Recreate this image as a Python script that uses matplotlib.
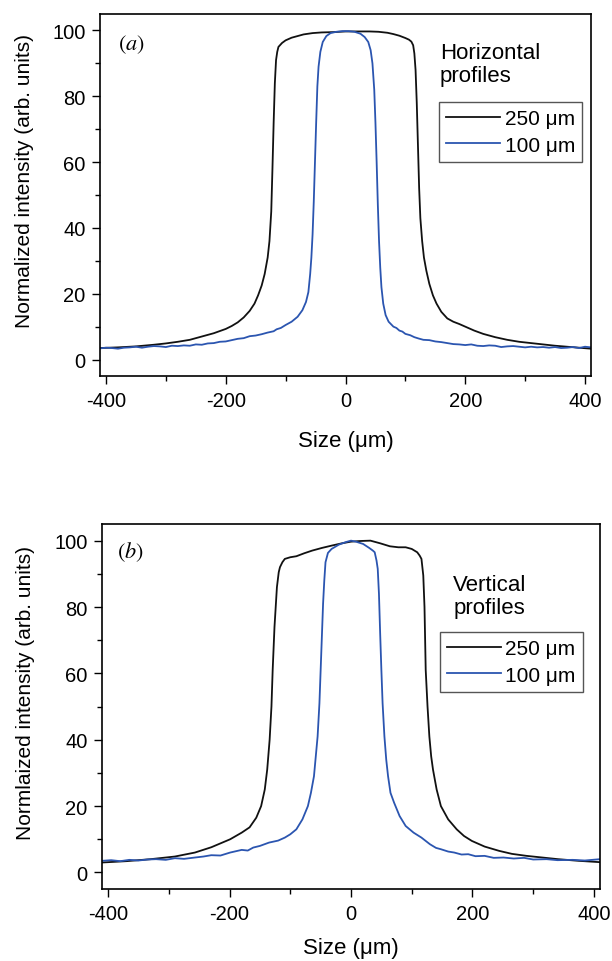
from matplotlib import pyplot as plt
from matplotlib.ticker import MultipleLocator

plt.rcParams['font.family'] = ['Liberation Sans', 'DejaVu Sans']
plt.rcParams['axes.unicode_minus'] = False
plt.rcParams['mathtext.fontset'] = 'stix'

# (a) horizontal profiles, 250 um slit
h250_x = [-410, -380, -350, -320, -300, -280, -260, -240, -220, -200, -190, -180, -170,
          -160, -152, -146, -140, -135, -130, -127, -124, -122, -120, -118, -116, -114,
          -112, -106, -100, -90, -80, -70, -55, -40, -20, 0, 20, 40, 55, 70, 80, 90, 100,
          106, 110, 113, 115, 117, 119, 121, 123, 125, 128, 131, 135, 140, 146, 152, 160,
          170, 180, 190, 200, 215, 230, 250, 270, 290, 310, 330, 350, 370, 390, 410]
h250_y = [3.5, 3.7, 4.0, 4.5, 4.9, 5.4, 6.0, 7.0, 8.0, 9.3, 10.2, 11.3, 12.8,
          14.8, 17.0, 19.5, 22.5, 26.0, 31.0, 36.0, 45.0, 58.0, 72.0, 84.0, 91.0, 93.5,
          95.0, 96.2, 97.0, 97.8, 98.3, 98.8, 99.2, 99.4, 99.5, 99.7, 99.7, 99.7, 99.6, 99.3,
          98.9, 98.4, 97.7, 97.2, 96.6, 95.5, 93.0, 88.0, 78.0, 65.0, 52.0, 43.0, 36.0,
          31.0, 27.0, 23.0, 19.5, 17.0, 14.5, 12.5, 11.5, 10.8, 10.0, 8.8, 7.8, 6.8, 6.0,
          5.4, 5.0, 4.6, 4.2, 3.9, 3.6, 3.3]

# (a) horizontal profiles, 100 um slit
h100_x = [-410, -400, -390, -380, -370, -360, -350, -340, -330, -320, -310, -300, -290,
          -280, -270, -260, -250, -240, -230, -220, -210, -200, -190, -180, -170, -160,
          -150, -140, -130, -120, -115, -108, -100, -90, -80, -72, -66, -62, -59, -57, -55,
          -53, -51, -49, -47, -45, -42, -38, -32, -25, -15, -5, 5, 15, 25, 32, 38, 42, 45,
          48, 50, 52, 54, 56, 58, 60, 63, 67, 72, 80, 85, 90, 95, 100, 108, 115, 122, 130,
          140, 150, 160, 170, 180, 190, 200, 210, 220, 230, 240, 250, 260, 270, 280, 290,
          300, 310, 320, 330, 340, 350, 360, 370, 380, 390, 400, 410]
h100_y = [3.4, 3.6, 3.5, 3.3, 3.6, 3.7, 3.9, 3.6, 3.9, 4.1, 4.0, 3.8, 4.2,
          4.1, 4.3, 4.2, 4.6, 4.5, 4.9, 5.0, 5.4, 5.5, 5.9, 6.3, 6.5, 7.1,
          7.3, 7.7, 8.2, 8.6, 9.2, 9.6, 10.5, 11.5, 13.0, 15.0, 17.5, 20.5, 26.0, 31.0, 38.0,
          48.0, 60.0, 72.0, 83.0, 89.0, 93.5, 96.5, 98.3, 99.2, 99.6, 99.8, 99.8, 99.6, 99.0,
          98.0, 96.5, 94.0, 90.0, 82.0, 72.0, 60.0, 47.0, 36.0, 28.0, 22.0, 17.0, 13.5, 11.5,
          10.0, 9.6, 8.8, 8.5, 7.8, 7.4, 6.8, 6.4, 6.0, 5.9, 5.5, 5.3, 5.0, 4.7, 4.6, 4.4,
          4.6, 4.2, 4.1, 4.3, 4.2, 3.8, 4.0, 4.1, 3.9, 3.7, 3.9, 3.7, 3.8, 3.6, 3.8, 3.5,
          3.6, 3.8, 3.5, 3.9, 3.7]

# (b) vertical profiles, 250 um slit
v250_x = [-410, -370, -330, -290, -257, -230, -199, -180, -167, -156, -148, -142, -138,
          -134, -131, -129, -126, -122, -119, -117, -113, -109, -100, -90, -77, -64, -48,
          -32, -15, 0, 16, 32, 48, 64, 78, 90, 100, 109, 113, 116, 119, 121, 123, 126, 129,
          132, 135, 141, 148, 160, 174, 186, 199, 220, 244, 265, 289, 315, 341, 375, 410]
v250_y = [3.0, 3.4, 4.0, 4.8, 6.0, 7.6, 10.0, 12.0, 13.6, 16.5, 20.0, 25.0, 31.0,
          40.0, 50.0, 61.0, 74.0, 86.0, 90.5, 92.0, 93.5, 94.5, 95.0, 95.3, 96.2, 97.0, 97.8,
          98.5, 99.2, 99.7, 99.9, 100.0, 99.2, 98.3, 98.0, 98.0, 97.5, 96.5, 95.5, 94.5, 89.5,
          80.0, 61.0, 50.0, 41.0, 35.0, 31.0, 25.0, 20.0, 16.0, 13.0, 11.0, 9.5, 7.8, 6.5,
          5.6, 5.0, 4.5, 4.0, 3.5, 3.1]

# (b) vertical profiles, 100 um slit
v100_x = [-410, -395, -380, -365, -350, -335, -321, -305, -290, -275, -257, -243, -230,
          -215, -199, -180, -170, -161, -150, -135, -120, -109, -100, -90, -80, -71, -66,
          -61, -58, -55, -52, -50, -48, -46, -44, -42, -38, -32, -20, -8, 0, 8, 20, 30, 36,
          39, 42, 44, 46, 48, 50, 52, 55, 58, 61, 65, 71, 80, 90, 103, 116, 130, 140, 148,
          160, 170, 182, 193, 205, 220, 235, 251, 268, 285, 300, 322, 340, 365, 385, 410]
v100_y = [3.5, 3.7, 3.4, 3.8, 3.6, 3.9, 4.0, 3.8, 4.3, 4.1, 4.5, 4.8, 5.2,
          5.1, 6.0, 6.8, 6.6, 7.5, 8.0, 9.0, 9.6, 10.5, 11.5, 13.0, 16.0, 20.0, 24.0,
          29.0, 35.0, 41.0, 51.0, 61.0, 71.0, 81.0, 88.0, 93.5, 96.3, 97.5, 98.8, 99.6,
          100.0, 99.7, 99.0, 97.8, 97.0, 96.5, 94.0, 91.5, 84.0, 72.0, 61.0, 51.0, 41.0,
          34.0, 29.0, 24.0, 21.0, 17.0, 14.0, 12.0, 10.5, 8.5, 7.4, 7.0, 6.3, 6.0, 5.4,
          5.5, 4.9, 5.0, 4.4, 4.5, 4.2, 4.4, 3.9, 4.0, 3.7, 3.8, 3.6, 4.0]

legend_labels = ['250 μm', '100 μm']
line_colors = ['#111111', '#2b55b0']

fig = plt.figure(figsize=(6.12, 9.62), dpi=100)
ax_a = fig.add_axes([0.1634, 0.6081, 0.8023, 0.3763])
ax_b = fig.add_axes([0.1667, 0.0748, 0.8137, 0.3794])

panels = [
    (ax_a, h250_x, h250_y, h100_x, h100_y, '$(a)$', (0.037, 0.917), 'Horizontal\nprofiles',
     (0.692, 0.923), (0.982, 0.757), 'Normalized intensity (arb. units)', 14),
    (ax_b, v250_x, v250_y, v100_x, v100_y, '$(b)$', (0.030, 0.926), 'Vertical\nprofiles',
     (0.705, 0.863), (0.966, 0.704), 'Normlaized intensity (arb. units)', 10),
]

for ax, x1, y1, x2, y2, tag, tag_pos, note, note_pos, leg_pos, ylab, xpad in panels:
    ax.plot(x1, y1, color=line_colors[0], lw=1.3, label=legend_labels[0])
    ax.plot(x2, y2, color=line_colors[1], lw=1.3, label=legend_labels[1])
    ax.set_xlim(-410, 410)
    ax.set_ylim(-5, 105)
    ax.xaxis.set_major_locator(MultipleLocator(200))
    ax.xaxis.set_minor_locator(MultipleLocator(100))
    ax.yaxis.set_major_locator(MultipleLocator(20))
    ax.yaxis.set_minor_locator(MultipleLocator(10))
    ax.tick_params(which='both', direction='out', top=False, right=False, width=1.0,
                   labelsize=14.5)
    ax.tick_params(which='major', length=5.5)
    ax.tick_params(which='minor', length=3.5)
    ax.tick_params(axis='x', pad=5.5)
    ax.tick_params(axis='y', pad=5)
    for sp in ax.spines.values():
        sp.set_linewidth(1.2)
    ax.set_xlabel('Size (μm)', fontsize=16, labelpad=xpad)
    ax.set_ylabel(ylab, fontsize=15)
    ax.yaxis.set_label_coords(-0.134, 0.541)
    ax.text(tag_pos[0], tag_pos[1], tag, transform=ax.transAxes, fontsize=16,
            ha='left', va='center')
    ax.text(note_pos[0], note_pos[1], note, transform=ax.transAxes, fontsize=16,
            ha='left', va='top', linespacing=1.15)
    leg = ax.legend(loc='upper right', bbox_to_anchor=leg_pos, borderaxespad=0,
                    fontsize=15, frameon=True, fancybox=False, framealpha=1,
                    edgecolor='#555555', borderpad=0.35, handlelength=2.6,
                    handletextpad=0.2, labelspacing=0.35)
    leg.get_frame().set_linewidth(1.0)

fig.savefig('out.png', dpi=100)
